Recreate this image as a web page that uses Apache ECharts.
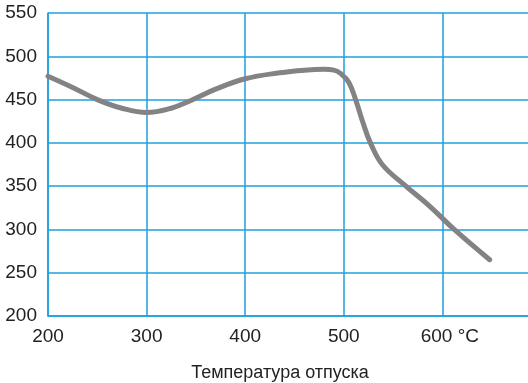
<!DOCTYPE html>
<html>
<head>
<meta charset="utf-8">
<script src="https://cdn.jsdelivr.net/npm/echarts@6/dist/echarts.min.js"></script>
<style>html,body{margin:0;padding:0;background:#fff;}#c{width:528px;height:383px;}</style>
</head>
<body>
<div id="c"></div>
<script>
// Data
var temperatures = [200, 225, 250, 275, 300, 325, 345, 370, 400, 435, 460, 480, 490, 497, 505, 512, 519, 527, 539, 563, 587, 612, 648];
var hardness =     [477, 464, 450, 440, 435, 440, 449, 462, 474, 481, 484, 485, 484, 480, 470, 450, 425, 400, 375, 350, 327, 300, 265];
var xTicks = [200, 300, 400, 500, 600];
var yTicks = [200, 250, 300, 350, 400, 450, 500, 550];
var xUnit = '°C';
var xTitle = 'Температура отпуска';

var blue = '#1ca0dd';
var font = 'Liberation Sans, Arial, sans-serif';
var chart = echarts.init(document.getElementById('c'), null, {renderer: 'canvas'});
var pts = temperatures.map(function (t, i) { return [t, hardness[i]]; });
chart.setOption({
  animation: false,
  grid: {left: 48, width: 490, top: 13, bottom: 67, containLabel: false, outerBoundsMode: 'none'},
  xAxis: {
    type: 'value', min: 200, max: 697, interval: 100,
    axisLine: {show: true, lineStyle: {color: blue, width: 1.5}},
    axisTick: {show: false},
    splitLine: {show: true, lineStyle: {color: blue, width: 1.5}},
    axisLabel: {
      margin: 11, color: '#222', fontFamily: font, fontSize: 19, showMaxLabel: false,
      formatter: function (v) {
        if (xTicks.indexOf(v) < 0) return '';
        if (v === xTicks[xTicks.length - 1]) return '{u|' + v + ' ' + xUnit + '}';
        return String(v);
      },
      rich: {u: {fontFamily: font, fontSize: 19, color: '#222', padding: [0, 0, 0, 15]}}
    },
    name: xTitle, nameLocation: 'middle', nameGap: 48,
    nameTextStyle: {fontFamily: font, fontSize: 18, color: '#222', padding: [0, 26, 0, 0]}
  },
  yAxis: {
    type: 'value', min: 200, max: 550, interval: 50,
    axisLine: {show: true, lineStyle: {color: blue, width: 1.5}},
    axisTick: {show: false},
    splitLine: {show: true, lineStyle: {color: blue, width: 1.5}},
    axisLabel: {
      margin: 11, color: '#222', fontFamily: font, fontSize: 19,
      formatter: function (v) { return yTicks.indexOf(v) >= 0 ? String(v) : ''; }
    }
  },
  series: [{
    type: 'line', data: pts, smooth: 0.4, symbol: 'none',
    lineStyle: {color: '#838386', width: 5, cap: 'round', join: 'round'}
  }]
});
</script>
</body>
</html>
